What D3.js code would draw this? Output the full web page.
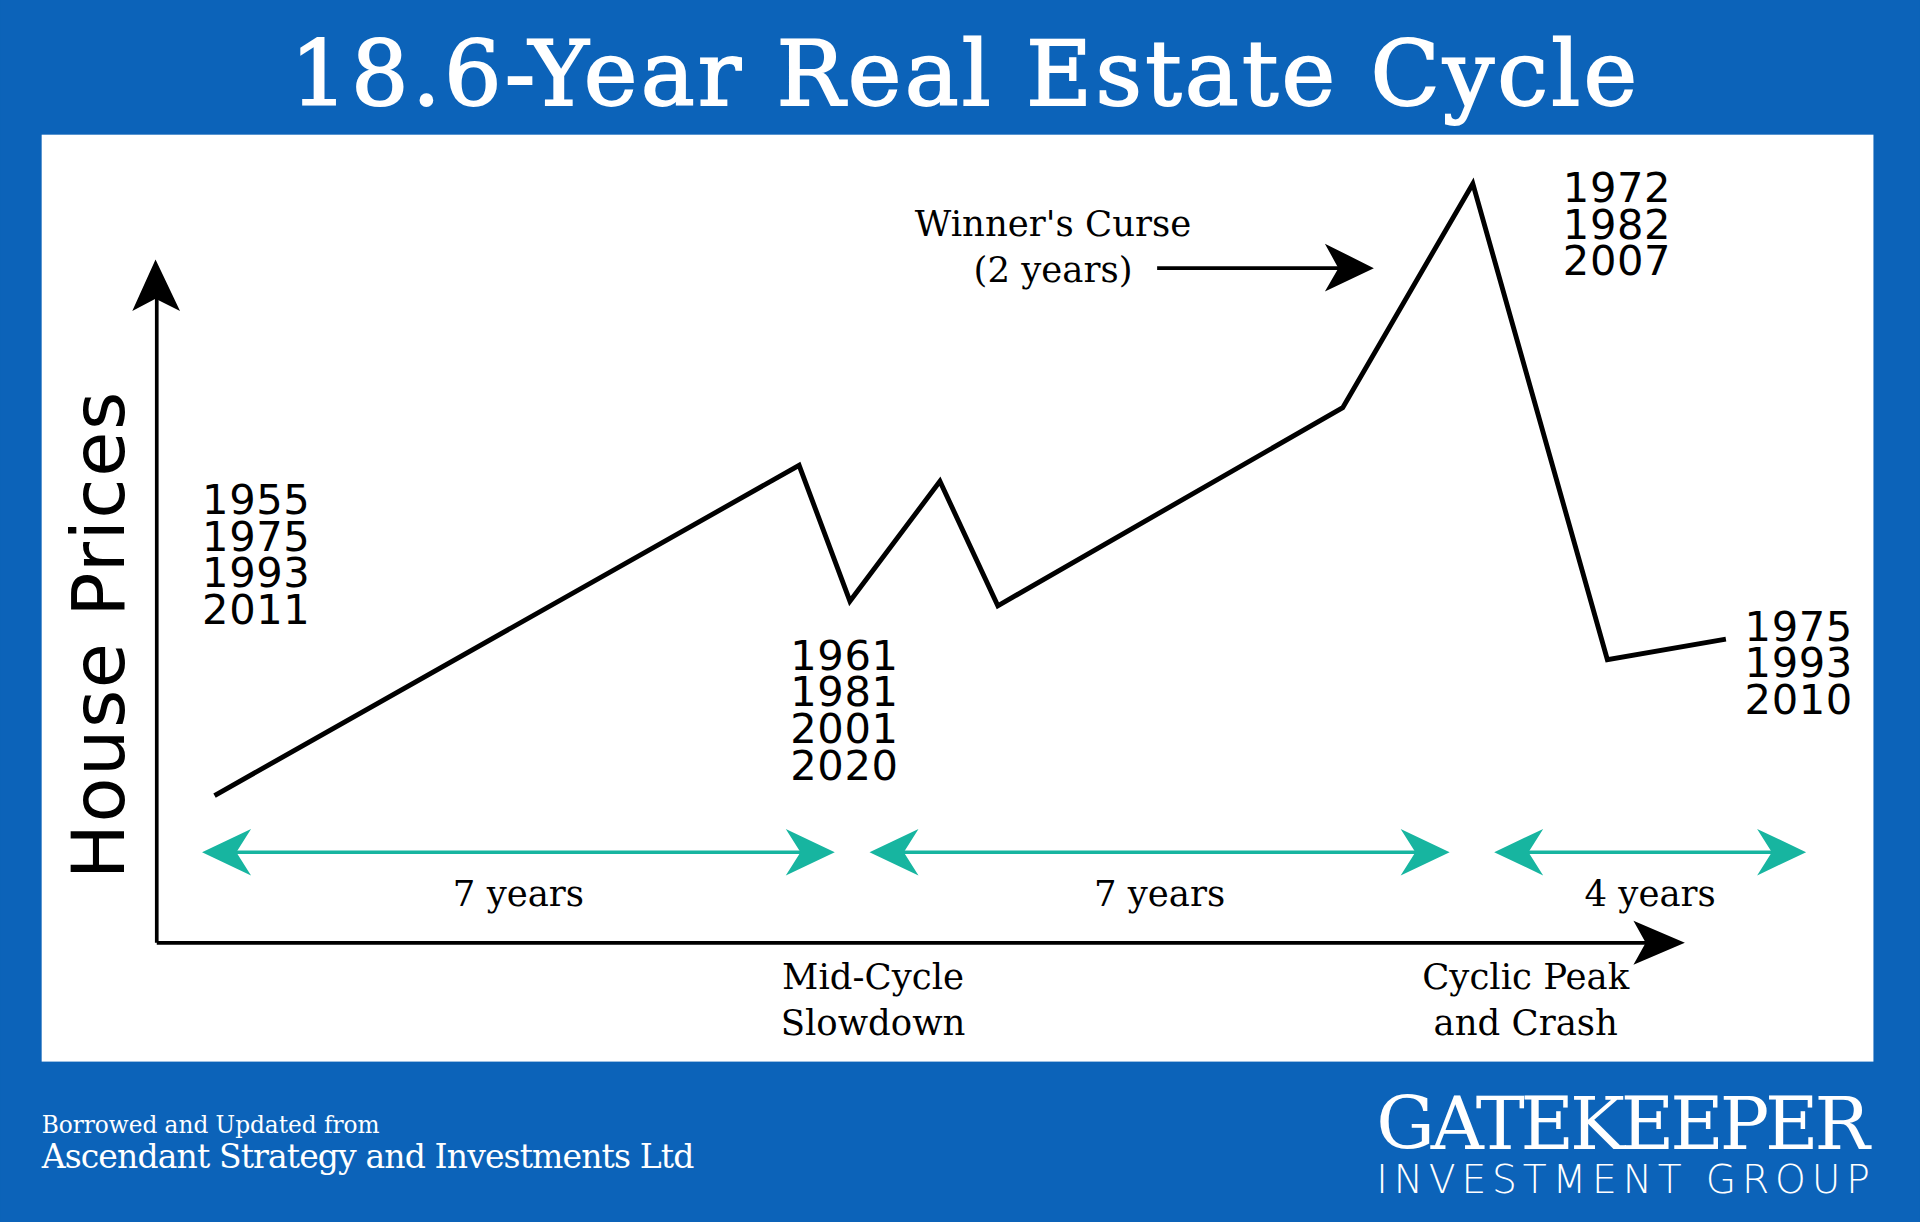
<!DOCTYPE html>
<html>
<head>
<meta charset="utf-8">
<title>18.6-Year Real Estate Cycle</title>
<script src="https://cdn.jsdelivr.net/npm/d3@7"></script>
<style>
body { margin: 0; background: #0c63b9; }
text { font-family: "DejaVu Serif", serif; }
.yr { font-family: "DejaVu Sans", sans-serif; font-size: 34px; }
.lab { font-size: 29px; }
</style>
</head>
<body>
<svg width="1920" height="1222" viewBox="0 0 1568 998"></svg>
<script>

// cycle time (years) and relative house price
var cycleYears = [0.14, 6.7, 7.27, 8.28, 8.93, 12.8, 14.26, 15.77, 17.1];
var priceIndex = [19.4, 62.9, 45, 60.8, 44.4, 70.5, 100, 37.3, 40];

var spanStart = [0, 7.49, 14.5];
var spanEnd = [7.1, 14.0, 18];
var spanLabels = ["7 years", "7 years", "4 years"];

var yearGroups = [
  { t: 0, p: 56.5, years: ["1955", "1975", "1993", "2011"] },
  { t: 6.6, p: 36, years: ["1961", "1981", "2001", "2020"] },
  { t: 15.27, p: 97.6, years: ["1972", "1982", "2007"] },
  { t: 17.31, p: 39.8, years: ["1975", "1993", "2010"] }
];

var svg = d3.select("svg");

var x = d3.scaleLinear().domain([0, 18]).range([165, 1475]);
var y = d3.scaleLinear().domain([0, 100]).range([770, 150]);

svg.append("rect").attr("width", 1568).attr("height", 998).attr("fill", "#0c63b9");
svg.append("rect").attr("x", 34).attr("y", 110).attr("width", 1496).attr("height", 757).attr("fill", "#fff");

svg.append("text").attr("x", 787).attr("y", 86).attr("text-anchor", "middle")
  .attr("textLength", 1100).attr("fill", "#fff").attr("stroke", "#fff").attr("stroke-width", 1.5)
  .style("font-size", "74px").text("18.6-Year Real Estate Cycle");

// axes
var axis = svg.append("g").attr("stroke", "#000").attr("stroke-width", 3);
axis.append("line").attr("x1", 128).attr("y1", 770).attr("x2", 128).attr("y2", 240);
axis.append("line").attr("x1", 128).attr("y1", 770).attr("x2", 1350).attr("y2", 770);
svg.append("path").attr("d", "M127,212 L147,254 L127,244 L108,254 Z").attr("fill", "#000");
svg.append("path").attr("d", "M1376,770 L1334,752 L1344,770 L1334,788 Z").attr("fill", "#000");

svg.append("text").attr("transform", "translate(101,519) rotate(-90)").attr("text-anchor", "middle")
  .attr("textLength", 398)
  .style("font-family", "'DejaVu Sans', sans-serif").style("font-size", "60px").text("House Prices");

// price path
var pts = cycleYears.map(function(t, i) { return [t, priceIndex[i]]; });
svg.append("path").datum(pts)
  .attr("d", d3.line().x(function(d) { return x(d[0]); }).y(function(d) { return y(d[1]); }))
  .attr("fill", "none").attr("stroke", "#000").attr("stroke-width", 4);

// year labels
yearGroups.forEach(function(g) {
  var t = svg.append("text").attr("class", "yr").attr("x", x(g.t)).attr("y", y(g.p));
  g.years.forEach(function(v, i) {
    t.append("tspan").attr("x", x(g.t)).attr("dy", i ? 30 : 0).attr("textLength", 88).text(v);
  });
});

// teal double arrows
var ay = 696;
spanStart.forEach(function(s, i) {
  var x0 = x(s), x1 = x(spanEnd[i]);
  var g = svg.append("g").attr("fill", "#17b5a0");
  g.append("line").attr("x1", x0 + 20).attr("x2", x1 - 20).attr("y1", ay).attr("y2", ay)
    .attr("stroke", "#17b5a0").attr("stroke-width", 3);
  g.append("path").attr("d", "M" + x0 + "," + ay + " l40,-19 l-12,19 l12,19 Z");
  g.append("path").attr("d", "M" + x1 + "," + ay + " l-40,-19 l12,19 l-12,19 Z");
  svg.append("text").attr("class", "lab").attr("x", (x0 + x1) / 2).attr("y", 740)
    .attr("text-anchor", "middle").text(spanLabels[i]);
});

// annotations
function label(lines, cx, cy) {
  var t = svg.append("text").attr("class", "lab").attr("text-anchor", "middle");
  lines.forEach(function(s, i) { t.append("tspan").attr("x", cx).attr("y", cy + i * 37).text(s); });
}
label(["Mid-Cycle", "Slowdown"], 713, 808);
label(["Cyclic Peak", "and Crash"], 1246, 808);
label(["Winner's Curse", "(2 years)"], 860, 193);

svg.append("line").attr("x1", 945).attr("x2", 1095).attr("y1", 219).attr("y2", 219)
  .attr("stroke", "#000").attr("stroke-width", 3);
svg.append("path").attr("d", "M1122,219 L1082,199 L1093,219 L1082,238 Z").attr("fill", "#000");

// footer
svg.append("text").attr("x", 34).attr("y", 925).attr("fill", "#fff").style("font-size", "19px")
  .attr("textLength", 276).text("Borrowed and Updated from");
svg.append("text").attr("x", 34).attr("y", 954).attr("fill", "#fff").style("font-size", "27px")
  .attr("textLength", 533).text("Ascendant Strategy and Investments Ltd");
svg.append("text").attr("x", 1527).attr("y", 938).attr("text-anchor", "end").attr("fill", "#fff")
  .attr("textLength", 403).style("font-size", "60px").text("GATEKEEPER");
svg.append("text").attr("x", 1527).attr("y", 974).attr("text-anchor", "end").attr("fill", "#fff")
  .attr("textLength", 403).style("font-family", "'DejaVu Sans', sans-serif").style("font-size", "32px")
  .style("font-weight", "200").text("INVESTMENT GROUP");

</script>
</body>
</html>
